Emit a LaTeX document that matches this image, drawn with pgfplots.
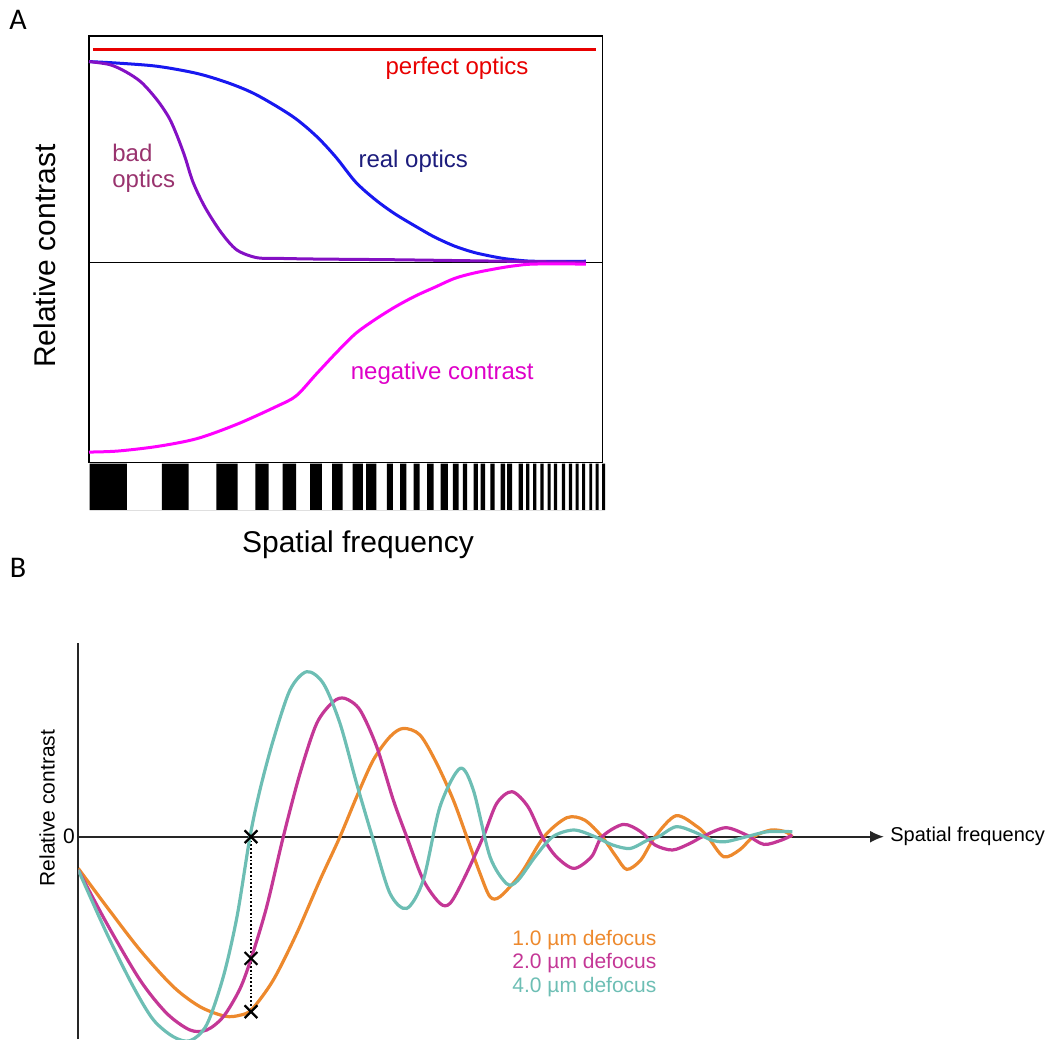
\documentclass[border=0pt]{standalone}
\usepackage{pgfplots}
\pgfplotsset{compat=1.18}
\usepackage{fontspec}
\setmainfont{Liberation Sans}
\newfontfamily\calibri{Carlito}
\usetikzlibrary{arrows.meta}
\definecolor{cred}{RGB}{232,0,0}
\definecolor{cblue}{RGB}{24,24,240}
\definecolor{cpurple}{RGB}{132,16,196}
\definecolor{cbadtxt}{RGB}{153,51,110}
\definecolor{crealtxt}{RGB}{28,28,124}
\definecolor{cmag}{RGB}{255,0,255}
\definecolor{cnegtxt}{RGB}{222,0,200}
\definecolor{corange}{RGB}{237,137,45}
\definecolor{cmagB}{RGB}{196,55,150}
\definecolor{cteal}{RGB}{109,190,180}
\begin{document}
\begin{tikzpicture}
\path[use as bounding box] (0,0) rectangle (527.5pt,-519.5pt);
% panel labels
\node[font=\calibri\fontsize{15}{17}\selectfont] at (9pt,-10pt) {A};
\node[font=\calibri\fontsize{15}{17}\selectfont] at (9pt,-284pt) {B};
% ---------------- Panel A ----------------
\begin{axis}[at={(44.5pt,-18pt)}, anchor=north west, scale only axis,
  width=256.75pt, height=213.25pt, xmin=0, xmax=1, ymin=-0.998, ymax=1.1275,
  xtick=\empty, ytick=\empty, axis line style={line width=0.8pt, black}, clip=false]
\draw[black, line width=0.6pt] (axis cs:0,0) -- (axis cs:1,0);
\addplot[cred, line width=1.5pt] coordinates {(0.0077,1.0616) (0.987,1.0616)};
\addplot[cblue, line width=1.5pt, smooth] coordinates {
(0,1.0) (0.0556,0.9925) (0.1329,0.9766) (0.2102,0.941) (0.272,0.893) (0.3261,0.8345)
(0.3957,0.728) (0.442,0.630) (0.4807,0.524) (0.5193,0.3995) (0.558,0.311) (0.5966,0.2397)
(0.643,0.1687) (0.6739,0.1243) (0.7125,0.0799) (0.7512,0.048) (0.7975,0.023) (0.828,0.0124)
(0.867,0.005) (0.9675,0.005)};
\addplot[cpurple, line width=1.5pt, smooth] coordinates {
(0,1.0) (0.0402,0.985) (0.0711,0.950) (0.102,0.8967) (0.1329,0.808) (0.1561,0.719)
(0.1716,0.630) (0.187,0.524) (0.2025,0.3995) (0.2257,0.275) (0.2566,0.151) (0.2875,0.062)
(0.326,0.023) (0.3648,0.0195) (0.442,0.016) (0.5966,0.0124) (0.813,0.005) (0.9675,0.0)};
\addplot[cmag, line width=1.5pt, smooth] coordinates {
(0,-0.946) (0.0556,-0.941) (0.1329,-0.918) (0.2102,-0.879) (0.2875,-0.808) (0.3648,-0.719)
(0.4034,-0.666) (0.442,-0.559) (0.4807,-0.453) (0.5193,-0.355) (0.558,-0.284) (0.5966,-0.222)
(0.635,-0.169) (0.6739,-0.124) (0.7125,-0.080) (0.7512,-0.053) (0.7975,-0.030) (0.828,-0.018)
(0.867,-0.009) (0.9675,-0.009)};
\end{axis}
% grating bars
\begin{axis}[at={(44.5pt,-231.75pt)}, anchor=north west, scale only axis,
  width=258pt, height=23.25pt, xmin=89, xmax=605, ymin=0, ymax=1,
  axis lines=none, xtick=\empty, ytick=\empty]
\addplot[fill=black, draw=none] coordinates {
(89.6,0)(89.6,1)(126.8,1)(126.8,0)
(161.8,0)(161.8,1)(188.6,1)(188.6,0)
(216.4,0)(216.4,1)(237.5,1)(237.5,0)
(255.4,0)(255.4,1)(268.6,1)(268.6,0)
(282.5,0)(282.5,1)(296.1,1)(296.1,0)
(310,0)(310,1)(321.8,1)(321.8,0)
(332.1,0)(332.1,1)(342.5,1)(342.5,0)
(352.5,0)(352.5,1)(362.9,1)(362.9,0)
(366,0)(366,1)(376.4,1)(376.4,0)
(386.8,0)(386.8,1)(392.9,1)(392.9,0)
(400,0)(400,1)(406.4,1)(406.4,0)
(413.6,0)(413.6,1)(419.6,1)(419.6,0)
(427.1,0)(427.1,1)(433.6,1)(433.6,0)
(440.7,0)(440.7,1)(447.9,1)(447.9,0)
(452.9,0)(452.9,1)(458.6,1)(458.6,0)
(462.9,0)(462.9,1)(467.1,1)(467.1,0)
(473.6,0)(473.6,1)(477.9,1)(477.9,0)
(480.7,0)(480.7,1)(485,1)(485,0)
(490.4,0)(490.4,1)(494.6,1)(494.6,0)
(500.7,0)(500.7,1)(505,1)(505,0)
(507,0)(507,1)(512,1)(512,0)
(518.6,0)(518.6,1)(522.9,1)(522.9,0)
(526,0)(526,1)(529.3,1)(529.3,0)
(533.2,0)(533.2,1)(536.4,1)(536.4,0)
(540.4,0)(540.4,1)(543.6,1)(543.6,0)
(547.5,0)(547.5,1)(550.7,1)(550.7,0)
(553.9,0)(553.9,1)(557.1,1)(557.1,0)
(561.8,0)(561.8,1)(565,1)(565,0)
(568.9,0)(568.9,1)(572.1,1)(572.1,0)
(575.7,0)(575.7,1)(578.6,1)(578.6,0)
(582.1,0)(582.1,1)(585,1)(585,0)
(589.3,0)(589.3,1)(592.1,1)(592.1,0)
(595.7,0)(595.7,1)(598.6,1)(598.6,0)
(602.1,0)(602.1,1)(605,1)(605,0)} \closedcycle;
\end{axis}
% panel A texts
\node[text=cred, font=\fontsize{12}{14}\selectfont] at (228.5pt,-34pt) {perfect optics};
\node[text=crealtxt, font=\fontsize{12}{14}\selectfont] at (206.6pt,-80.7pt) {real optics};
\node[text=cbadtxt, font=\fontsize{12}{14}\selectfont, anchor=west, align=left, inner sep=0pt] at (56pt,-83.9pt) {bad\\[-1pt]optics};
\node[text=cnegtxt, font=\fontsize{12}{14}\selectfont] at (221.1pt,-186.4pt) {negative contrast};
\node[rotate=90, font=\fontsize{15}{17}\selectfont] at (22.5pt,-128pt) {Relative contrast};
\node[font=\fontsize{15}{17}\selectfont] at (179pt,-272.5pt) {Spatial frequency};
% ---------------- Panel B ----------------
\begin{axis}[at={(39.15pt,-321.5pt)}, anchor=north west, scale only axis,
  width=402.85pt, height=198pt, xmin=78.3, xmax=884, ymin=-202.3, ymax=193.7,
  axis x line=middle, axis y line=left, xtick=\empty, ytick=\empty,
  x axis line style={-{Latex[length=7pt,width=6pt]}, line width=0.9pt, black!85},
  y axis line style={-, line width=0.9pt, black!85}]
\addplot[densely dotted, black, line width=0.9pt] coordinates {(251,0) (251,-175)};
\addplot[corange, line width=1.6pt, smooth] coordinates {
(78.3,-31.7) (106.7,-70) (140,-113.3) (173.3,-150) (200,-170) (225,-179.5) (240,-178.5) (252,-172.5)
(273.3,-143.3) (296.7,-96.7) (320,-43.3) (340,0) (356.7,40) (373.3,76.7) (390,100)
(403.3,108.3) (420,101.7) (436.7,73.3) (453.3,36.7) (466.7,0) (480,-36.7) (490,-60)
(500,-60) (521,-36.7) (544,0) (566.9,19) (584.5,16.7) (602,0) (616.2,-20) (626.8,-32.7)
(640.8,-23.3) (655,0) (676,21) (697.2,10) (707.7,0) (723.6,-20) (739.4,-13.3) (753.5,0)
(771,6.7) (785.2,5) (792.3,0)};
\addplot[cmagB, line width=1.6pt, smooth] coordinates {
(78.3,-33.3) (106.7,-86.6) (140,-143.3) (166.7,-176.6) (190,-193.3) (206.7,-193.3)
(223.3,-180) (240,-152) (251.7,-120) (266.7,-70) (283.3,0) (300,63.3) (316.7,113.3)
(333.3,135) (345,138.3) (360,126.7) (376.7,90) (393.3,36.7) (406.7,0) (423.3,-43.3)
(440,-66.7) (450,-66.7) (463.3,-43.3) (483.3,0) (496.7,33.3) (512,45) (528,30) (542.3,0)
(556.3,-20) (574,-31.7) (591.5,-20) (602,0) (623.2,12.3) (640.8,5) (655,-8.3) (672.5,-13.3)
(690,-6.7) (702.5,0) (725.4,9) (746.5,1.7) (764,-7.7) (781.7,-3.3) (792.3,1.7)};
\addplot[cteal, line width=1.6pt, smooth] coordinates {
(78.3,-33.3) (106.7,-96.6) (133.3,-150) (153.3,-183) (173.3,-200) (190,-204) (206.7,-188)
(223.3,-140) (237,-80) (250,0) (260,47) (273.3,96.7) (290,146.7) (306.7,165) (323.3,153.3)
(340,113.3) (356.7,53) (373.3,-3.3) (390,-56.7) (406.7,-71.7) (423.3,-43.3) (440,30)
(460,68.3) (473.3,46.7) (490,-20) (506.7,-47) (517.6,-44) (535.2,-20) (552.8,0) (574,6.7)
(595,0) (612.7,-8.3) (630.3,-11.7) (647.9,-3.3) (658.5,0) (676,10) (693.7,5) (711.3,-3.3)
(725.4,-5) (746.5,0) (767.6,5) (792.3,5)};
\addplot[only marks, mark=x, mark size=4.5pt, black, mark options={line width=1.1pt}]
  coordinates {(251,0) (251,-121.7) (251,-175)};
\end{axis}
% panel B texts
\node[font=\fontsize{10}{12}\selectfont, anchor=west, inner sep=0pt] at (445pt,-418.35pt) {Spatial frequency};
\node[font=\fontsize{10.5}{12}\selectfont] at (34.5pt,-418.35pt) {0};
\node[rotate=90, font=\fontsize{10.5}{12}\selectfont] at (23.5pt,-404pt) {Relative contrast};
\node[text=corange, font=\fontsize{10.5}{12}\selectfont, anchor=west, inner sep=0pt] at (256pt,-470pt) {1.0 µm defocus};
\node[text=cmagB, font=\fontsize{10.5}{12}\selectfont, anchor=west, inner sep=0pt] at (256pt,-481.75pt) {2.0 µm defocus};
\node[text=cteal, font=\fontsize{10.5}{12}\selectfont, anchor=west, inner sep=0pt] at (256pt,-493.5pt) {4.0 µm defocus};
\end{tikzpicture}
\end{document}
